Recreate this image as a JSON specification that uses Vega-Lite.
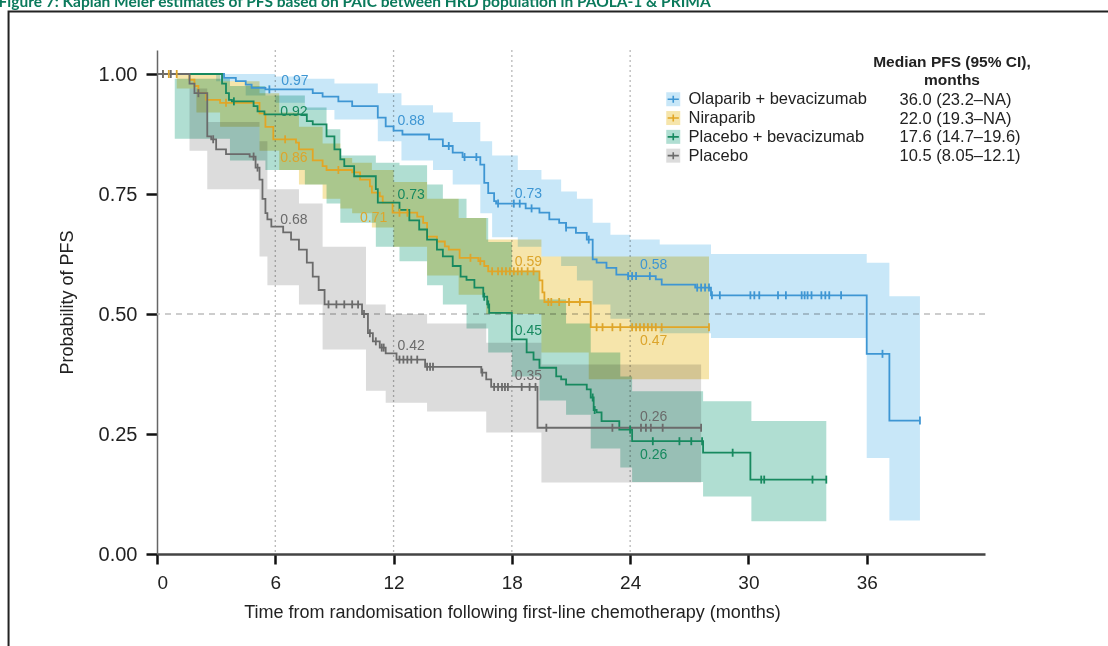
{
  "$schema": "https://vega.github.io/schema/vega-lite/v6.json",
  "autosize": {"type": "none"},
  "padding": {"left": 157, "top": 50, "right": 123, "bottom": 92},
  "width": 828,
  "height": 504,
  "background": "white",
  "title": {
    "text": "Figure 7: Kaplan Meier estimates of PFS based on PAIC between HRD population in PAOLA-1 & PRIMA",
    "anchor": "start",
    "frame": "bounds",
    "baseline": "alphabetic",
    "offset": -12,
    "dx": -9,
    "font": "Lato",
    "fontSize": 15.5,
    "fontWeight": "bold",
    "color": "#0b7a5c"
  },
  "datasets": {
    "arms": [
      {"arm": "Olaparib + bevacizumab", "median": "36.0 (23.2–NA)"},
      {"arm": "Niraparib", "median": "22.0 (19.3–NA)"},
      {"arm": "Placebo + bevacizumab", "median": "17.6 (14.7–19.6)"},
      {"arm": "Placebo", "median": "10.5 (8.05–12.1)"}
    ],
    "km": [
      {"arm": "Olaparib + bevacizumab", "t": 0, "s": 1.0},
      {"arm": "Olaparib + bevacizumab", "t": 3.4, "s": 0.992},
      {"arm": "Olaparib + bevacizumab", "t": 4.0, "s": 0.985},
      {"arm": "Olaparib + bevacizumab", "t": 4.5, "s": 0.978},
      {"arm": "Olaparib + bevacizumab", "t": 4.8, "s": 0.971},
      {"arm": "Olaparib + bevacizumab", "t": 5.5, "s": 0.968},
      {"arm": "Olaparib + bevacizumab", "t": 7.9, "s": 0.96},
      {"arm": "Olaparib + bevacizumab", "t": 8.4, "s": 0.953},
      {"arm": "Olaparib + bevacizumab", "t": 9.2, "s": 0.943},
      {"arm": "Olaparib + bevacizumab", "t": 9.9, "s": 0.933},
      {"arm": "Olaparib + bevacizumab", "t": 11.2, "s": 0.909},
      {"arm": "Olaparib + bevacizumab", "t": 11.6, "s": 0.891},
      {"arm": "Olaparib + bevacizumab", "t": 12.0, "s": 0.882},
      {"arm": "Olaparib + bevacizumab", "t": 12.45, "s": 0.874},
      {"arm": "Olaparib + bevacizumab", "t": 13.8, "s": 0.864},
      {"arm": "Olaparib + bevacizumab", "t": 14.5, "s": 0.85},
      {"arm": "Olaparib + bevacizumab", "t": 15.0, "s": 0.836},
      {"arm": "Olaparib + bevacizumab", "t": 15.5, "s": 0.827},
      {"arm": "Olaparib + bevacizumab", "t": 16.4, "s": 0.811},
      {"arm": "Olaparib + bevacizumab", "t": 16.6, "s": 0.773},
      {"arm": "Olaparib + bevacizumab", "t": 16.8, "s": 0.752},
      {"arm": "Olaparib + bevacizumab", "t": 17.1, "s": 0.735},
      {"arm": "Olaparib + bevacizumab", "t": 17.2, "s": 0.73},
      {"arm": "Olaparib + bevacizumab", "t": 18.7, "s": 0.72},
      {"arm": "Olaparib + bevacizumab", "t": 19.4, "s": 0.711},
      {"arm": "Olaparib + bevacizumab", "t": 19.9, "s": 0.697},
      {"arm": "Olaparib + bevacizumab", "t": 20.4, "s": 0.69},
      {"arm": "Olaparib + bevacizumab", "t": 20.75, "s": 0.68},
      {"arm": "Olaparib + bevacizumab", "t": 21.25, "s": 0.669},
      {"arm": "Olaparib + bevacizumab", "t": 21.8, "s": 0.655},
      {"arm": "Olaparib + bevacizumab", "t": 22.1, "s": 0.614},
      {"arm": "Olaparib + bevacizumab", "t": 22.3, "s": 0.607},
      {"arm": "Olaparib + bevacizumab", "t": 22.8, "s": 0.596},
      {"arm": "Olaparib + bevacizumab", "t": 23.3, "s": 0.582},
      {"arm": "Olaparib + bevacizumab", "t": 23.9, "s": 0.579},
      {"arm": "Olaparib + bevacizumab", "t": 25.3, "s": 0.572},
      {"arm": "Olaparib + bevacizumab", "t": 25.6, "s": 0.561},
      {"arm": "Olaparib + bevacizumab", "t": 27.3, "s": 0.555},
      {"arm": "Olaparib + bevacizumab", "t": 28.1, "s": 0.539},
      {"arm": "Olaparib + bevacizumab", "t": 36.0, "s": 0.417},
      {"arm": "Olaparib + bevacizumab", "t": 37.15, "s": 0.278},
      {"arm": "Olaparib + bevacizumab", "t": 38.7, "s": 0.278},
      {"arm": "Niraparib", "t": 0, "s": 1.0},
      {"arm": "Niraparib", "t": 1.65, "s": 0.988},
      {"arm": "Niraparib", "t": 1.9, "s": 0.975},
      {"arm": "Niraparib", "t": 2.1, "s": 0.96},
      {"arm": "Niraparib", "t": 2.5, "s": 0.946},
      {"arm": "Niraparib", "t": 3.2, "s": 0.94},
      {"arm": "Niraparib", "t": 5.2, "s": 0.918},
      {"arm": "Niraparib", "t": 5.5, "s": 0.89},
      {"arm": "Niraparib", "t": 5.9, "s": 0.864},
      {"arm": "Niraparib", "t": 7.05, "s": 0.857},
      {"arm": "Niraparib", "t": 7.2, "s": 0.843},
      {"arm": "Niraparib", "t": 7.9, "s": 0.82},
      {"arm": "Niraparib", "t": 8.4, "s": 0.808},
      {"arm": "Niraparib", "t": 8.6, "s": 0.8},
      {"arm": "Niraparib", "t": 9.9, "s": 0.795},
      {"arm": "Niraparib", "t": 10.3, "s": 0.78},
      {"arm": "Niraparib", "t": 10.8, "s": 0.766},
      {"arm": "Niraparib", "t": 10.9, "s": 0.753},
      {"arm": "Niraparib", "t": 11.3, "s": 0.745},
      {"arm": "Niraparib", "t": 11.45, "s": 0.732},
      {"arm": "Niraparib", "t": 11.95, "s": 0.711},
      {"arm": "Niraparib", "t": 13.2, "s": 0.703},
      {"arm": "Niraparib", "t": 13.5, "s": 0.69},
      {"arm": "Niraparib", "t": 13.7, "s": 0.661},
      {"arm": "Niraparib", "t": 14.2, "s": 0.651},
      {"arm": "Niraparib", "t": 14.6, "s": 0.641},
      {"arm": "Niraparib", "t": 14.8, "s": 0.634},
      {"arm": "Niraparib", "t": 15.35, "s": 0.617},
      {"arm": "Niraparib", "t": 16.3, "s": 0.61},
      {"arm": "Niraparib", "t": 16.6, "s": 0.6},
      {"arm": "Niraparib", "t": 16.8, "s": 0.589},
      {"arm": "Niraparib", "t": 19.4, "s": 0.57},
      {"arm": "Niraparib", "t": 19.55, "s": 0.545},
      {"arm": "Niraparib", "t": 19.65, "s": 0.525},
      {"arm": "Niraparib", "t": 22.0, "s": 0.4725},
      {"arm": "Niraparib", "t": 28.0, "s": 0.4725},
      {"arm": "Placebo + bevacizumab", "t": 0, "s": 1.0},
      {"arm": "Placebo + bevacizumab", "t": 3.3, "s": 0.98},
      {"arm": "Placebo + bevacizumab", "t": 3.5, "s": 0.96},
      {"arm": "Placebo + bevacizumab", "t": 3.65, "s": 0.946},
      {"arm": "Placebo + bevacizumab", "t": 3.8, "s": 0.943},
      {"arm": "Placebo + bevacizumab", "t": 4.9, "s": 0.933},
      {"arm": "Placebo + bevacizumab", "t": 5.1, "s": 0.922},
      {"arm": "Placebo + bevacizumab", "t": 5.45, "s": 0.916},
      {"arm": "Placebo + bevacizumab", "t": 7.6, "s": 0.902},
      {"arm": "Placebo + bevacizumab", "t": 7.9, "s": 0.895},
      {"arm": "Placebo + bevacizumab", "t": 8.6, "s": 0.87},
      {"arm": "Placebo + bevacizumab", "t": 9.0, "s": 0.843},
      {"arm": "Placebo + bevacizumab", "t": 9.3, "s": 0.822},
      {"arm": "Placebo + bevacizumab", "t": 9.5, "s": 0.808},
      {"arm": "Placebo + bevacizumab", "t": 10.0, "s": 0.787},
      {"arm": "Placebo + bevacizumab", "t": 11.1, "s": 0.76},
      {"arm": "Placebo + bevacizumab", "t": 11.2, "s": 0.732},
      {"arm": "Placebo + bevacizumab", "t": 12.3, "s": 0.717},
      {"arm": "Placebo + bevacizumab", "t": 12.8, "s": 0.695},
      {"arm": "Placebo + bevacizumab", "t": 13.3, "s": 0.676},
      {"arm": "Placebo + bevacizumab", "t": 13.7, "s": 0.655},
      {"arm": "Placebo + bevacizumab", "t": 14.2, "s": 0.634},
      {"arm": "Placebo + bevacizumab", "t": 14.5, "s": 0.62},
      {"arm": "Placebo + bevacizumab", "t": 15.0, "s": 0.6},
      {"arm": "Placebo + bevacizumab", "t": 15.4, "s": 0.578},
      {"arm": "Placebo + bevacizumab", "t": 15.7, "s": 0.571},
      {"arm": "Placebo + bevacizumab", "t": 16.1, "s": 0.555},
      {"arm": "Placebo + bevacizumab", "t": 16.55, "s": 0.536},
      {"arm": "Placebo + bevacizumab", "t": 16.75, "s": 0.52},
      {"arm": "Placebo + bevacizumab", "t": 16.85, "s": 0.5025},
      {"arm": "Placebo + bevacizumab", "t": 18.0, "s": 0.447},
      {"arm": "Placebo + bevacizumab", "t": 18.75, "s": 0.42},
      {"arm": "Placebo + bevacizumab", "t": 19.1, "s": 0.405},
      {"arm": "Placebo + bevacizumab", "t": 19.4, "s": 0.388},
      {"arm": "Placebo + bevacizumab", "t": 20.25, "s": 0.37},
      {"arm": "Placebo + bevacizumab", "t": 20.5, "s": 0.364},
      {"arm": "Placebo + bevacizumab", "t": 20.75, "s": 0.353},
      {"arm": "Placebo + bevacizumab", "t": 21.8, "s": 0.343},
      {"arm": "Placebo + bevacizumab", "t": 22.0, "s": 0.326},
      {"arm": "Placebo + bevacizumab", "t": 22.15, "s": 0.3},
      {"arm": "Placebo + bevacizumab", "t": 22.3, "s": 0.295},
      {"arm": "Placebo + bevacizumab", "t": 22.55, "s": 0.277},
      {"arm": "Placebo + bevacizumab", "t": 23.45, "s": 0.259},
      {"arm": "Placebo + bevacizumab", "t": 24.1, "s": 0.235},
      {"arm": "Placebo + bevacizumab", "t": 27.7, "s": 0.211},
      {"arm": "Placebo + bevacizumab", "t": 30.1, "s": 0.155},
      {"arm": "Placebo + bevacizumab", "t": 33.95, "s": 0.155},
      {"arm": "Placebo", "t": 0, "s": 1.0},
      {"arm": "Placebo", "t": 1.65, "s": 0.98},
      {"arm": "Placebo", "t": 1.9, "s": 0.96},
      {"arm": "Placebo", "t": 2.55, "s": 0.87},
      {"arm": "Placebo", "t": 2.75, "s": 0.864},
      {"arm": "Placebo", "t": 3.0, "s": 0.843},
      {"arm": "Placebo", "t": 3.5, "s": 0.833},
      {"arm": "Placebo", "t": 4.7, "s": 0.828},
      {"arm": "Placebo", "t": 5.0, "s": 0.805},
      {"arm": "Placebo", "t": 5.2, "s": 0.78},
      {"arm": "Placebo", "t": 5.35, "s": 0.74},
      {"arm": "Placebo", "t": 5.5, "s": 0.71},
      {"arm": "Placebo", "t": 5.6, "s": 0.697},
      {"arm": "Placebo", "t": 5.8, "s": 0.682},
      {"arm": "Placebo", "t": 6.4, "s": 0.67},
      {"arm": "Placebo", "t": 6.8, "s": 0.655},
      {"arm": "Placebo", "t": 7.2, "s": 0.634},
      {"arm": "Placebo", "t": 7.6, "s": 0.607},
      {"arm": "Placebo", "t": 7.9, "s": 0.578},
      {"arm": "Placebo", "t": 8.2, "s": 0.55},
      {"arm": "Placebo", "t": 8.5, "s": 0.52},
      {"arm": "Placebo", "t": 10.4, "s": 0.5},
      {"arm": "Placebo", "t": 10.7, "s": 0.46},
      {"arm": "Placebo", "t": 10.95, "s": 0.443},
      {"arm": "Placebo", "t": 11.3, "s": 0.43},
      {"arm": "Placebo", "t": 11.6, "s": 0.418},
      {"arm": "Placebo", "t": 12.15, "s": 0.405},
      {"arm": "Placebo", "t": 13.6, "s": 0.39},
      {"arm": "Placebo", "t": 16.45, "s": 0.378},
      {"arm": "Placebo", "t": 16.7, "s": 0.364},
      {"arm": "Placebo", "t": 16.95, "s": 0.348},
      {"arm": "Placebo", "t": 19.3, "s": 0.263},
      {"arm": "Placebo", "t": 27.6, "s": 0.263}
    ],
    "ci": [
      {"arm": "Olaparib + bevacizumab", "t": 0, "lo": 1.0, "hi": 1.0},
      {"arm": "Olaparib + bevacizumab", "t": 3.0, "lo": 0.985, "hi": 1.0},
      {"arm": "Olaparib + bevacizumab", "t": 4.5, "lo": 0.955, "hi": 1.0},
      {"arm": "Olaparib + bevacizumab", "t": 6.0, "lo": 0.94, "hi": 0.995},
      {"arm": "Olaparib + bevacizumab", "t": 7.5, "lo": 0.925, "hi": 0.99},
      {"arm": "Olaparib + bevacizumab", "t": 9.0, "lo": 0.905, "hi": 0.98},
      {"arm": "Olaparib + bevacizumab", "t": 11.2, "lo": 0.86, "hi": 0.96},
      {"arm": "Olaparib + bevacizumab", "t": 12.4, "lo": 0.82, "hi": 0.935},
      {"arm": "Olaparib + bevacizumab", "t": 14.0, "lo": 0.8, "hi": 0.92},
      {"arm": "Olaparib + bevacizumab", "t": 15.0, "lo": 0.77, "hi": 0.9},
      {"arm": "Olaparib + bevacizumab", "t": 16.4, "lo": 0.71, "hi": 0.86},
      {"arm": "Olaparib + bevacizumab", "t": 17.0, "lo": 0.66, "hi": 0.83},
      {"arm": "Olaparib + bevacizumab", "t": 18.3, "lo": 0.64, "hi": 0.8},
      {"arm": "Olaparib + bevacizumab", "t": 19.5, "lo": 0.62, "hi": 0.78},
      {"arm": "Olaparib + bevacizumab", "t": 20.5, "lo": 0.6, "hi": 0.755},
      {"arm": "Olaparib + bevacizumab", "t": 21.3, "lo": 0.57, "hi": 0.74},
      {"arm": "Olaparib + bevacizumab", "t": 22.1, "lo": 0.52, "hi": 0.69},
      {"arm": "Olaparib + bevacizumab", "t": 23.0, "lo": 0.49, "hi": 0.665},
      {"arm": "Olaparib + bevacizumab", "t": 24.0, "lo": 0.47, "hi": 0.655},
      {"arm": "Olaparib + bevacizumab", "t": 25.5, "lo": 0.46, "hi": 0.645},
      {"arm": "Olaparib + bevacizumab", "t": 28.1, "lo": 0.45, "hi": 0.625},
      {"arm": "Olaparib + bevacizumab", "t": 36.0, "lo": 0.2, "hi": 0.607},
      {"arm": "Olaparib + bevacizumab", "t": 37.15, "lo": 0.07, "hi": 0.537},
      {"arm": "Olaparib + bevacizumab", "t": 38.7, "lo": 0.07, "hi": 0.537},
      {"arm": "Niraparib", "t": 0, "lo": 1.0, "hi": 1.0},
      {"arm": "Niraparib", "t": 1.0, "lo": 0.97, "hi": 1.0},
      {"arm": "Niraparib", "t": 2.0, "lo": 0.92, "hi": 1.0},
      {"arm": "Niraparib", "t": 3.2, "lo": 0.89, "hi": 0.985},
      {"arm": "Niraparib", "t": 5.2, "lo": 0.84, "hi": 0.96},
      {"arm": "Niraparib", "t": 6.2, "lo": 0.8, "hi": 0.92},
      {"arm": "Niraparib", "t": 7.2, "lo": 0.77, "hi": 0.89},
      {"arm": "Niraparib", "t": 8.4, "lo": 0.74, "hi": 0.855},
      {"arm": "Niraparib", "t": 9.3, "lo": 0.72, "hi": 0.825},
      {"arm": "Niraparib", "t": 9.9, "lo": 0.71, "hi": 0.815},
      {"arm": "Niraparib", "t": 10.9, "lo": 0.68, "hi": 0.8},
      {"arm": "Niraparib", "t": 12.0, "lo": 0.64, "hi": 0.775},
      {"arm": "Niraparib", "t": 13.7, "lo": 0.58, "hi": 0.74},
      {"arm": "Niraparib", "t": 15.3, "lo": 0.54, "hi": 0.7},
      {"arm": "Niraparib", "t": 16.7, "lo": 0.5, "hi": 0.655},
      {"arm": "Niraparib", "t": 19.5, "lo": 0.42, "hi": 0.62},
      {"arm": "Niraparib", "t": 21.9, "lo": 0.364, "hi": 0.62},
      {"arm": "Niraparib", "t": 28.0, "lo": 0.364, "hi": 0.62},
      {"arm": "Placebo + bevacizumab", "t": 0, "lo": 1.0, "hi": 1.0},
      {"arm": "Placebo + bevacizumab", "t": 0.9, "lo": 0.865, "hi": 0.99},
      {"arm": "Placebo + bevacizumab", "t": 3.7, "lo": 0.82, "hi": 0.975},
      {"arm": "Placebo + bevacizumab", "t": 5.5, "lo": 0.8, "hi": 0.955},
      {"arm": "Placebo + bevacizumab", "t": 7.5, "lo": 0.77, "hi": 0.93},
      {"arm": "Placebo + bevacizumab", "t": 8.6, "lo": 0.73, "hi": 0.885},
      {"arm": "Placebo + bevacizumab", "t": 9.3, "lo": 0.69, "hi": 0.83},
      {"arm": "Placebo + bevacizumab", "t": 11.1, "lo": 0.64, "hi": 0.815},
      {"arm": "Placebo + bevacizumab", "t": 12.3, "lo": 0.61, "hi": 0.81},
      {"arm": "Placebo + bevacizumab", "t": 13.7, "lo": 0.56, "hi": 0.77},
      {"arm": "Placebo + bevacizumab", "t": 14.5, "lo": 0.52, "hi": 0.74},
      {"arm": "Placebo + bevacizumab", "t": 15.7, "lo": 0.47, "hi": 0.7},
      {"arm": "Placebo + bevacizumab", "t": 16.8, "lo": 0.42, "hi": 0.65},
      {"arm": "Placebo + bevacizumab", "t": 18.0, "lo": 0.37, "hi": 0.59},
      {"arm": "Placebo + bevacizumab", "t": 19.4, "lo": 0.32, "hi": 0.53},
      {"arm": "Placebo + bevacizumab", "t": 20.75, "lo": 0.29, "hi": 0.48},
      {"arm": "Placebo + bevacizumab", "t": 22.0, "lo": 0.22, "hi": 0.42},
      {"arm": "Placebo + bevacizumab", "t": 23.5, "lo": 0.18, "hi": 0.37},
      {"arm": "Placebo + bevacizumab", "t": 24.1, "lo": 0.15, "hi": 0.339},
      {"arm": "Placebo + bevacizumab", "t": 27.7, "lo": 0.12, "hi": 0.318},
      {"arm": "Placebo + bevacizumab", "t": 30.15, "lo": 0.068, "hi": 0.277},
      {"arm": "Placebo + bevacizumab", "t": 33.95, "lo": 0.068, "hi": 0.277},
      {"arm": "Placebo", "t": 0, "lo": 1.0, "hi": 1.0},
      {"arm": "Placebo", "t": 1.65, "lo": 0.84, "hi": 0.97},
      {"arm": "Placebo", "t": 2.55, "lo": 0.76, "hi": 0.9},
      {"arm": "Placebo", "t": 5.2, "lo": 0.62, "hi": 0.86},
      {"arm": "Placebo", "t": 5.6, "lo": 0.56, "hi": 0.76},
      {"arm": "Placebo", "t": 7.2, "lo": 0.52, "hi": 0.73},
      {"arm": "Placebo", "t": 8.4, "lo": 0.426, "hi": 0.64},
      {"arm": "Placebo", "t": 10.6, "lo": 0.34, "hi": 0.52},
      {"arm": "Placebo", "t": 11.6, "lo": 0.315, "hi": 0.5},
      {"arm": "Placebo", "t": 13.7, "lo": 0.297, "hi": 0.48},
      {"arm": "Placebo", "t": 16.7, "lo": 0.253, "hi": 0.44},
      {"arm": "Placebo", "t": 19.5, "lo": 0.149, "hi": 0.395},
      {"arm": "Placebo", "t": 27.6, "lo": 0.149, "hi": 0.395}
    ],
    "cens": [
      {"arm": "Olaparib + bevacizumab", "t": 5.7, "s": 0.968},
      {"arm": "Olaparib + bevacizumab", "t": 14.8, "s": 0.85},
      {"arm": "Olaparib + bevacizumab", "t": 15.6, "s": 0.827},
      {"arm": "Olaparib + bevacizumab", "t": 16.2, "s": 0.827},
      {"arm": "Olaparib + bevacizumab", "t": 17.3, "s": 0.73},
      {"arm": "Olaparib + bevacizumab", "t": 18.1, "s": 0.73},
      {"arm": "Olaparib + bevacizumab", "t": 18.4, "s": 0.73},
      {"arm": "Olaparib + bevacizumab", "t": 19.0, "s": 0.72},
      {"arm": "Olaparib + bevacizumab", "t": 20.75, "s": 0.68},
      {"arm": "Olaparib + bevacizumab", "t": 21.9, "s": 0.655},
      {"arm": "Olaparib + bevacizumab", "t": 23.9, "s": 0.579},
      {"arm": "Olaparib + bevacizumab", "t": 24.1, "s": 0.579},
      {"arm": "Olaparib + bevacizumab", "t": 24.3, "s": 0.579},
      {"arm": "Olaparib + bevacizumab", "t": 25.0, "s": 0.579},
      {"arm": "Olaparib + bevacizumab", "t": 27.4, "s": 0.555},
      {"arm": "Olaparib + bevacizumab", "t": 27.6, "s": 0.555},
      {"arm": "Olaparib + bevacizumab", "t": 27.8, "s": 0.555},
      {"arm": "Olaparib + bevacizumab", "t": 28.0, "s": 0.555},
      {"arm": "Olaparib + bevacizumab", "t": 28.15, "s": 0.539},
      {"arm": "Olaparib + bevacizumab", "t": 28.55, "s": 0.539},
      {"arm": "Olaparib + bevacizumab", "t": 30.1, "s": 0.539},
      {"arm": "Olaparib + bevacizumab", "t": 30.3, "s": 0.539},
      {"arm": "Olaparib + bevacizumab", "t": 30.55, "s": 0.539},
      {"arm": "Olaparib + bevacizumab", "t": 31.5, "s": 0.539},
      {"arm": "Olaparib + bevacizumab", "t": 31.9, "s": 0.539},
      {"arm": "Olaparib + bevacizumab", "t": 32.7, "s": 0.539},
      {"arm": "Olaparib + bevacizumab", "t": 32.85, "s": 0.539},
      {"arm": "Olaparib + bevacizumab", "t": 33.0, "s": 0.539},
      {"arm": "Olaparib + bevacizumab", "t": 33.2, "s": 0.539},
      {"arm": "Olaparib + bevacizumab", "t": 33.7, "s": 0.539},
      {"arm": "Olaparib + bevacizumab", "t": 33.9, "s": 0.539},
      {"arm": "Olaparib + bevacizumab", "t": 34.1, "s": 0.539},
      {"arm": "Olaparib + bevacizumab", "t": 34.7, "s": 0.539},
      {"arm": "Olaparib + bevacizumab", "t": 36.8, "s": 0.417},
      {"arm": "Olaparib + bevacizumab", "t": 38.7, "s": 0.278},
      {"arm": "Niraparib", "t": 0.3, "s": 1.0},
      {"arm": "Niraparib", "t": 0.6, "s": 1.0},
      {"arm": "Niraparib", "t": 1.0, "s": 1.0},
      {"arm": "Niraparib", "t": 3.5, "s": 0.94},
      {"arm": "Niraparib", "t": 6.5, "s": 0.864},
      {"arm": "Niraparib", "t": 9.2, "s": 0.8},
      {"arm": "Niraparib", "t": 12.3, "s": 0.711},
      {"arm": "Niraparib", "t": 12.7, "s": 0.711},
      {"arm": "Niraparib", "t": 15.9, "s": 0.617},
      {"arm": "Niraparib", "t": 16.4, "s": 0.61},
      {"arm": "Niraparib", "t": 17.0, "s": 0.589},
      {"arm": "Niraparib", "t": 17.3, "s": 0.589},
      {"arm": "Niraparib", "t": 17.5, "s": 0.589},
      {"arm": "Niraparib", "t": 17.7, "s": 0.589},
      {"arm": "Niraparib", "t": 17.9, "s": 0.589},
      {"arm": "Niraparib", "t": 18.1, "s": 0.589},
      {"arm": "Niraparib", "t": 18.3, "s": 0.589},
      {"arm": "Niraparib", "t": 18.5, "s": 0.589},
      {"arm": "Niraparib", "t": 18.8, "s": 0.589},
      {"arm": "Niraparib", "t": 19.1, "s": 0.589},
      {"arm": "Niraparib", "t": 19.85, "s": 0.525},
      {"arm": "Niraparib", "t": 20.0, "s": 0.525},
      {"arm": "Niraparib", "t": 20.4, "s": 0.525},
      {"arm": "Niraparib", "t": 20.9, "s": 0.525},
      {"arm": "Niraparib", "t": 21.45, "s": 0.525},
      {"arm": "Niraparib", "t": 22.3, "s": 0.4725},
      {"arm": "Niraparib", "t": 22.6, "s": 0.4725},
      {"arm": "Niraparib", "t": 23.1, "s": 0.4725},
      {"arm": "Niraparib", "t": 23.5, "s": 0.4725},
      {"arm": "Niraparib", "t": 24.1, "s": 0.4725},
      {"arm": "Niraparib", "t": 24.3, "s": 0.4725},
      {"arm": "Niraparib", "t": 24.5, "s": 0.4725},
      {"arm": "Niraparib", "t": 24.7, "s": 0.4725},
      {"arm": "Niraparib", "t": 24.9, "s": 0.4725},
      {"arm": "Niraparib", "t": 25.1, "s": 0.4725},
      {"arm": "Niraparib", "t": 25.3, "s": 0.4725},
      {"arm": "Niraparib", "t": 25.6, "s": 0.4725},
      {"arm": "Niraparib", "t": 28.0, "s": 0.4725},
      {"arm": "Placebo + bevacizumab", "t": 3.9, "s": 0.943},
      {"arm": "Placebo + bevacizumab", "t": 16.6, "s": 0.536},
      {"arm": "Placebo + bevacizumab", "t": 16.8, "s": 0.52},
      {"arm": "Placebo + bevacizumab", "t": 22.1, "s": 0.326},
      {"arm": "Placebo + bevacizumab", "t": 22.2, "s": 0.3},
      {"arm": "Placebo + bevacizumab", "t": 24.0, "s": 0.259},
      {"arm": "Placebo + bevacizumab", "t": 25.15, "s": 0.235},
      {"arm": "Placebo + bevacizumab", "t": 26.5, "s": 0.235},
      {"arm": "Placebo + bevacizumab", "t": 27.1, "s": 0.235},
      {"arm": "Placebo + bevacizumab", "t": 27.65, "s": 0.235},
      {"arm": "Placebo + bevacizumab", "t": 29.2, "s": 0.211},
      {"arm": "Placebo + bevacizumab", "t": 30.65, "s": 0.155},
      {"arm": "Placebo + bevacizumab", "t": 30.8, "s": 0.155},
      {"arm": "Placebo + bevacizumab", "t": 33.25, "s": 0.155},
      {"arm": "Placebo + bevacizumab", "t": 33.95, "s": 0.155},
      {"arm": "Placebo", "t": 0.3, "s": 1.0},
      {"arm": "Placebo", "t": 0.7, "s": 1.0},
      {"arm": "Placebo", "t": 2.1, "s": 0.96},
      {"arm": "Placebo", "t": 2.85, "s": 0.864},
      {"arm": "Placebo", "t": 4.9, "s": 0.828},
      {"arm": "Placebo", "t": 5.1, "s": 0.805},
      {"arm": "Placebo", "t": 8.7, "s": 0.52},
      {"arm": "Placebo", "t": 9.1, "s": 0.52},
      {"arm": "Placebo", "t": 9.5, "s": 0.52},
      {"arm": "Placebo", "t": 9.9, "s": 0.52},
      {"arm": "Placebo", "t": 10.2, "s": 0.52},
      {"arm": "Placebo", "t": 10.5, "s": 0.5},
      {"arm": "Placebo", "t": 10.8, "s": 0.46},
      {"arm": "Placebo", "t": 11.1, "s": 0.443},
      {"arm": "Placebo", "t": 11.4, "s": 0.43},
      {"arm": "Placebo", "t": 11.5, "s": 0.43},
      {"arm": "Placebo", "t": 12.3, "s": 0.405},
      {"arm": "Placebo", "t": 12.5, "s": 0.405},
      {"arm": "Placebo", "t": 12.7, "s": 0.405},
      {"arm": "Placebo", "t": 12.9, "s": 0.405},
      {"arm": "Placebo", "t": 13.2, "s": 0.405},
      {"arm": "Placebo", "t": 13.7, "s": 0.39},
      {"arm": "Placebo", "t": 13.85, "s": 0.39},
      {"arm": "Placebo", "t": 14.0, "s": 0.39},
      {"arm": "Placebo", "t": 16.5, "s": 0.378},
      {"arm": "Placebo", "t": 17.1, "s": 0.348},
      {"arm": "Placebo", "t": 17.3, "s": 0.348},
      {"arm": "Placebo", "t": 17.5, "s": 0.348},
      {"arm": "Placebo", "t": 17.65, "s": 0.348},
      {"arm": "Placebo", "t": 17.8, "s": 0.348},
      {"arm": "Placebo", "t": 18.5, "s": 0.348},
      {"arm": "Placebo", "t": 18.9, "s": 0.348},
      {"arm": "Placebo", "t": 19.2, "s": 0.348},
      {"arm": "Placebo", "t": 19.75, "s": 0.263},
      {"arm": "Placebo", "t": 23.1, "s": 0.263},
      {"arm": "Placebo", "t": 24.55, "s": 0.263},
      {"arm": "Placebo", "t": 24.8, "s": 0.263},
      {"arm": "Placebo", "t": 25.05, "s": 0.263},
      {"arm": "Placebo", "t": 25.65, "s": 0.263},
      {"arm": "Placebo", "t": 27.6, "s": 0.263}
    ],
    "lab": [
      {"arm": "Olaparib + bevacizumab", "t": 6.3, "s": 0.986, "v": 0.97},
      {"arm": "Olaparib + bevacizumab", "t": 12.2, "s": 0.903, "v": 0.88},
      {"arm": "Olaparib + bevacizumab", "t": 18.15, "s": 0.749, "v": 0.73},
      {"arm": "Olaparib + bevacizumab", "t": 24.5, "s": 0.603, "v": 0.58},
      {"arm": "Niraparib", "t": 6.25, "s": 0.826, "v": 0.86},
      {"arm": "Niraparib", "t": 10.3, "s": 0.699, "v": 0.71},
      {"arm": "Niraparib", "t": 18.15, "s": 0.609, "v": 0.59},
      {"arm": "Niraparib", "t": 24.5, "s": 0.443, "v": 0.47},
      {"arm": "Placebo + bevacizumab", "t": 6.25, "s": 0.92, "v": 0.92},
      {"arm": "Placebo + bevacizumab", "t": 12.2, "s": 0.747, "v": 0.73},
      {"arm": "Placebo + bevacizumab", "t": 18.15, "s": 0.464, "v": 0.45},
      {"arm": "Placebo + bevacizumab", "t": 24.5, "s": 0.207, "v": 0.26},
      {"arm": "Placebo", "t": 6.25, "s": 0.695, "v": 0.68},
      {"arm": "Placebo", "t": 12.2, "s": 0.434, "v": 0.42},
      {"arm": "Placebo", "t": 18.15, "s": 0.37, "v": 0.35},
      {"arm": "Placebo", "t": 24.5, "s": 0.286, "v": 0.26}
    ],
    "vgrid": [{"t": 6}, {"t": 12}, {"t": 18}, {"t": 24}],
    "hgrid": [{"s": 0.5}]
  },
  "layer": [
    {
      "data": {"values": [{"frame": "outline"}]},
      "mark": {"type": "rect", "fill": "transparent", "stroke": "#222", "strokeWidth": 2},
      "encoding": {
        "x": {"datum": -7.53, "scale": {"domain": [0, 42], "nice": false, "zero": false}},
        "x2": {"datum": 48.6},
        "y": {"datum": 1.13, "scale": {"domain": [0, 1.05], "nice": false, "zero": false}},
        "y2": {"datum": -0.25}
      }
    },
    {
      "data": {"name": "vgrid"},
      "mark": {"type": "rule", "color": "#b8b8b8", "strokeWidth": 1.3, "strokeDash": [2, 3]},
      "encoding": {"x": {"field": "t", "type": "quantitative"}}
    },
    {
      "data": {"name": "hgrid"},
      "mark": {"type": "rule", "color": "#bdbdbd", "strokeWidth": 1.3, "strokeDash": [6, 5]},
      "encoding": {"y": {"field": "s", "type": "quantitative"}}
    },
    {
      "data": {"name": "ci"},
      "mark": {"type": "area", "interpolate": "step-after", "blend": "multiply", "opacity": 1},
      "encoding": {
        "x": {"field": "t", "type": "quantitative"},
        "y": {"field": "lo", "type": "quantitative"},
        "y2": {"field": "hi"},
        "fill": {
          "field": "arm",
          "type": "nominal",
          "scale": {
            "domain": ["Olaparib + bevacizumab", "Niraparib", "Placebo + bevacizumab", "Placebo"],
            "range": ["#c8e7f8", "#f6e5ab", "#b0ded2", "#dcdcdc"]
          },
          "legend": {
            "title": null,
            "orient": "none",
            "legendX": 508,
            "legendY": 41,
            "symbolType": "square",
            "symbolSize": 196,
            "symbolStrokeWidth": 0,
            "symbolOpacity": 1
          }
        }
      }
    },
    {
      "data": {"name": "km"},
      "mark": {"type": "line", "interpolate": "step-after", "strokeWidth": 1.8},
      "encoding": {
        "x": {"field": "t", "type": "quantitative"},
        "y": {"field": "s", "type": "quantitative"},
        "stroke": {
          "field": "arm",
          "type": "nominal",
          "sort": null,
          "scale": {"range": ["#3e96d3", "#e2a626", "#17895f", "#6b6b6b"]},
          "legend": {
            "title": null,
            "orient": "none",
            "legendX": 508,
            "legendY": 41,
            "symbolType": "M-0.8,0H0.8M0,-0.5V0.5",
            "symbolSize": 196,
            "symbolStrokeWidth": 1.6,
            "labelOpacity": 0
          }
        }
      }
    },
    {
      "data": {"name": "cens"},
      "mark": {"type": "point", "shape": "M0,-1V1", "filled": false, "size": 64, "strokeWidth": 1.8, "opacity": 1},
      "encoding": {
        "x": {"field": "t", "type": "quantitative"},
        "y": {"field": "s", "type": "quantitative"},
        "color": {
          "field": "arm",
          "type": "nominal",
          "scale": {
            "domain": ["Olaparib + bevacizumab", "Niraparib", "Placebo + bevacizumab", "Placebo"],
            "range": ["#3e96d3", "#dca52c", "#17895f", "#6b6b6b"]
          },
          "legend": null
        }
      }
    },
    {
      "data": {"name": "lab"},
      "transform": [
        {"lookup": "arm", "from": {"data": {"name": "arms"}, "key": "arm", "fields": ["median"]}}
      ],
      "mark": {"type": "text", "align": "left", "baseline": "middle", "fontSize": 14, "font": "Liberation Sans"},
      "encoding": {
        "x": {
          "field": "t",
          "type": "quantitative",
          "axis": {
            "values": [0, 6, 12, 18, 24, 30, 36],
            "title": "Time from randomisation following first-line chemotherapy (months)",
            "titleX": 355,
            "titlePadding": 11,
            "grid": false,
            "domainColor": "#444",
            "domainWidth": 2.5,
            "tickColor": "#111",
            "tickWidth": 2.5,
            "tickSize": 10,
            "labelPadding": 9,
            "labelFontSize": 19
          }
        },
        "y": {
          "field": "s",
          "type": "quantitative",
          "axis": {
            "values": [0, 0.25, 0.5, 0.75, 1],
            "format": ".2f",
            "title": "Probability of PFS",
            "titlePadding": 22,
            "grid": false,
            "domainColor": "#666",
            "domainWidth": 1.5,
            "tickColor": "#111",
            "tickWidth": 2.5,
            "tickSize": 11,
            "labelPadding": 9,
            "labelFontSize": 20
          }
        },
        "text": {"field": "v", "type": "quantitative", "format": ".2f"},
        "color": {"field": "arm", "type": "nominal", "legend": null},
        "opacity": {
          "field": "median",
          "type": "nominal",
          "sort": "descending",
          "scale": {"range": [1, 1]},
          "legend": {
            "title": ["Median PFS (95% CI),", "months"],
            "orient": "none",
            "legendX": 716,
            "legendY": 5,
            "titleFontWeight": "bold",
            "titleFontSize": 15.5,
            "titleAnchor": "middle",
            "titleAlign": "center",
            "titleLineHeight": 18,
            "titlePadding": 3,
            "titleColor": "#222",
            "symbolSize": 0,
            "symbolStrokeWidth": 0,
            "symbolOpacity": 0,
            "labelOffset": 0
          }
        }
      }
    }
  ],
  "config": {
    "font": "Liberation Sans",
    "view": {"stroke": null},
    "axis": {
      "labelFont": "Liberation Sans",
      "labelFontSize": 18,
      "labelColor": "#222",
      "titleFont": "Liberation Sans",
      "titleFontSize": 18,
      "titleFontWeight": "normal",
      "titleColor": "#222"
    },
    "legend": {
      "labelFont": "Liberation Sans",
      "labelFontSize": 16.5,
      "labelLimit": 400,
      "labelColor": "#222",
      "titleFont": "Liberation Sans",
      "rowPadding": 1.8,
      "padding": 0,
      "labelOffset": 7
    }
  }
}
